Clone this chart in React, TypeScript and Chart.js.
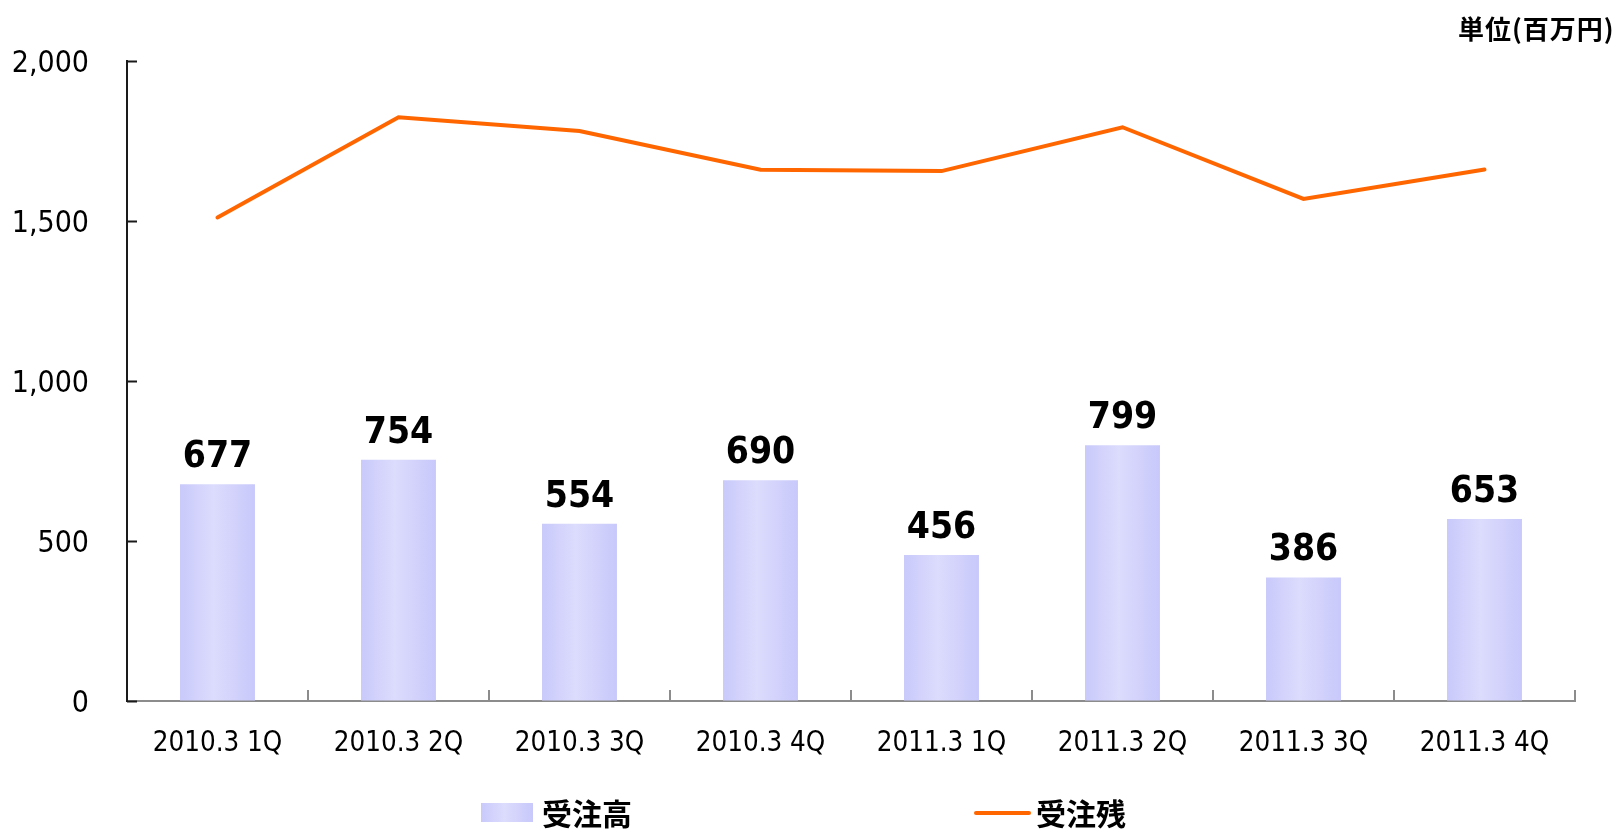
import React, { useEffect, useRef } from 'react';
import { Chart, registerables } from 'chart.js';

Chart.register(...registerables);

const categories = ['2010.3 1Q', '2010.3 2Q', '2010.3 3Q', '2010.3 4Q', '2011.3 1Q', '2011.3 2Q', '2011.3 3Q', '2011.3 4Q'];
const orders = [677, 754, 554, 690, 456, 799, 386, 569];
const orderLabels = ['677', '754', '554', '690', '456', '799', '386', '653'];
const backlog = [1511, 1824, 1781, 1660, 1656, 1793, 1569, 1661];
const yTicks = [0, 500, 1000, 1500, 2000];
const seriesNames = ['受注高', '受注残'];
const unitLabel = '単位(百万円)';

const NARROW = "'DejaVu Sans Condensed', 'Liberation Sans', sans-serif";
const CJK = "'Noto Sans CJK JP', 'Noto Sans CJK SC', sans-serif";
const ORANGE = '#ff6600';

function makeGradient(ctx: CanvasRenderingContext2D, x0: number, x1: number) {
  const g = ctx.createLinearGradient(x0, 0, x1, 0);
  g.addColorStop(0, '#c9c9fb');
  g.addColorStop(0.45, '#dcdcfd');
  g.addColorStop(1, '#c8c8fb');
  return g;
}

const decorPlugin = {
  id: 'decor',
  afterDatasetsDraw(chart: any) {
    const { ctx, chartArea, scales } = chart;
    const ys = scales.y;
    const xs = scales.x;
    ctx.save();
    // inner y ticks
    ctx.strokeStyle = '#1a1a1a';
    ctx.lineWidth = 2;
    yTicks.forEach((v) => {
      const y = Math.round(ys.getPixelForValue(v)) + 0.5;
      ctx.beginPath();
      ctx.moveTo(chartArea.left, y);
      ctx.lineTo(chartArea.left + 10, y);
      ctx.stroke();
    });
    // inner x ticks at category boundaries
    ctx.strokeStyle = '#8c8c8c';
    const n = categories.length;
    for (let i = 1; i <= n; i++) {
      const x = i < n ? (xs.getPixelForValue(i - 1) + xs.getPixelForValue(i)) / 2 : chartArea.right;
      ctx.beginPath();
      ctx.moveTo(Math.round(x), chartArea.bottom);
      ctx.lineTo(Math.round(x), chartArea.bottom - 11);
      ctx.stroke();
    }
    // bar value labels
    const meta = chart.getDatasetMeta(0);
    ctx.fillStyle = '#000';
    ctx.font = `bold 37px ${NARROW}`;
    ctx.textAlign = 'center';
    ctx.textBaseline = 'alphabetic';
    meta.data.forEach((el: any, i: number) => {
      ctx.fillText(orderLabels[i], el.x, el.y - 17);
    });
    // unit label
    ctx.font = `bold 26px ${CJK}`;
    ctx.textAlign = 'left';
    ctx.textBaseline = 'middle';
    try {
      (ctx as any).letterSpacing = '1px';
    } catch (e) {
      /* ignore */
    }
    ctx.fillText(unitLabel, 1458, 29);
    try {
      (ctx as any).letterSpacing = '0px';
    } catch (e) {
      /* ignore */
    }
    // legend
    ctx.fillStyle = makeGradient(ctx, 481, 533);
    ctx.fillRect(481, 803, 52, 19);
    ctx.fillStyle = '#000';
    ctx.font = `bold 30px ${CJK}`;
    ctx.fillText(seriesNames[0], 542, 814);
    ctx.strokeStyle = ORANGE;
    ctx.lineWidth = 4;
    ctx.lineCap = 'round';
    ctx.beginPath();
    ctx.moveTo(976, 813);
    ctx.lineTo(1029, 813);
    ctx.stroke();
    ctx.fillText(seriesNames[1], 1036, 814);
    ctx.restore();
  },
};

export default function App() {
  const ref = useRef<HTMLCanvasElement | null>(null);
  useEffect(() => {
    if (!ref.current) return;
    const chart = new Chart(ref.current, {
      type: 'bar',
      data: {
        labels: categories,
        datasets: [
          {
            type: 'bar',
            label: seriesNames[0],
            data: orders,
            backgroundColor: (c: any) => {
              const ch = c.chart;
              const xs = ch.scales && ch.scales.x;
              if (!xs || !ch.chartArea || c.type !== 'data') return '#d2d2fc';
              const cx = xs.getPixelForValue(c.dataIndex);
              return makeGradient(ch.ctx, cx - 37.5, cx + 37.5);
            },
            borderWidth: 0,
            barPercentage: 0.414,
            categoryPercentage: 1,
            order: 2,
          } as any,
          {
            type: 'line',
            label: seriesNames[1],
            data: backlog,
            borderColor: ORANGE,
            backgroundColor: ORANGE,
            borderWidth: 4,
            borderCapStyle: 'round',
            pointRadius: 0,
            tension: 0,
            fill: false,
            order: 1,
          } as any,
        ],
      },
      options: {
        responsive: false,
        animation: false,
        layout: { padding: { top: 61, right: 48, bottom: 0, left: 0 } },
        plugins: {
          legend: { display: false },
          tooltip: { enabled: false },
        },
        scales: {
          x: {
            afterFit: (s: any) => {
              s.height = 128;
            },
            grid: { drawOnChartArea: false, drawTicks: false, offset: true },
            border: { color: '#8c8c8c', width: 2 },
            ticks: {
              padding: 26,
              maxRotation: 0,
              autoSkip: false,
              color: '#000',
              font: { family: NARROW, size: 27.5 },
            },
          },
          y: {
            min: 0,
            max: 2000,
            afterBuildTicks: (s: any) => {
              s.ticks = yTicks.map((v) => ({ value: v }));
            },
            afterFit: (s: any) => {
              s.width = 127;
            },
            grid: { drawOnChartArea: false, drawTicks: false },
            border: { color: '#1a1a1a', width: 2 },
            ticks: {
              padding: 38,
              labelOffset: 3,
              color: '#000',
              font: { family: NARROW, size: 30 },
              callback: (v: any) => Number(v).toLocaleString('en-US'),
            },
          },
        },
      } as any,
      plugins: [decorPlugin],
    });
    return () => chart.destroy();
  }, []);
  return (
    <canvas
      ref={ref}
      width={1623}
      height={829}
      style={{ position: 'absolute', left: 0, top: 0, width: 1623, height: 829 }}
    />
  );
}
